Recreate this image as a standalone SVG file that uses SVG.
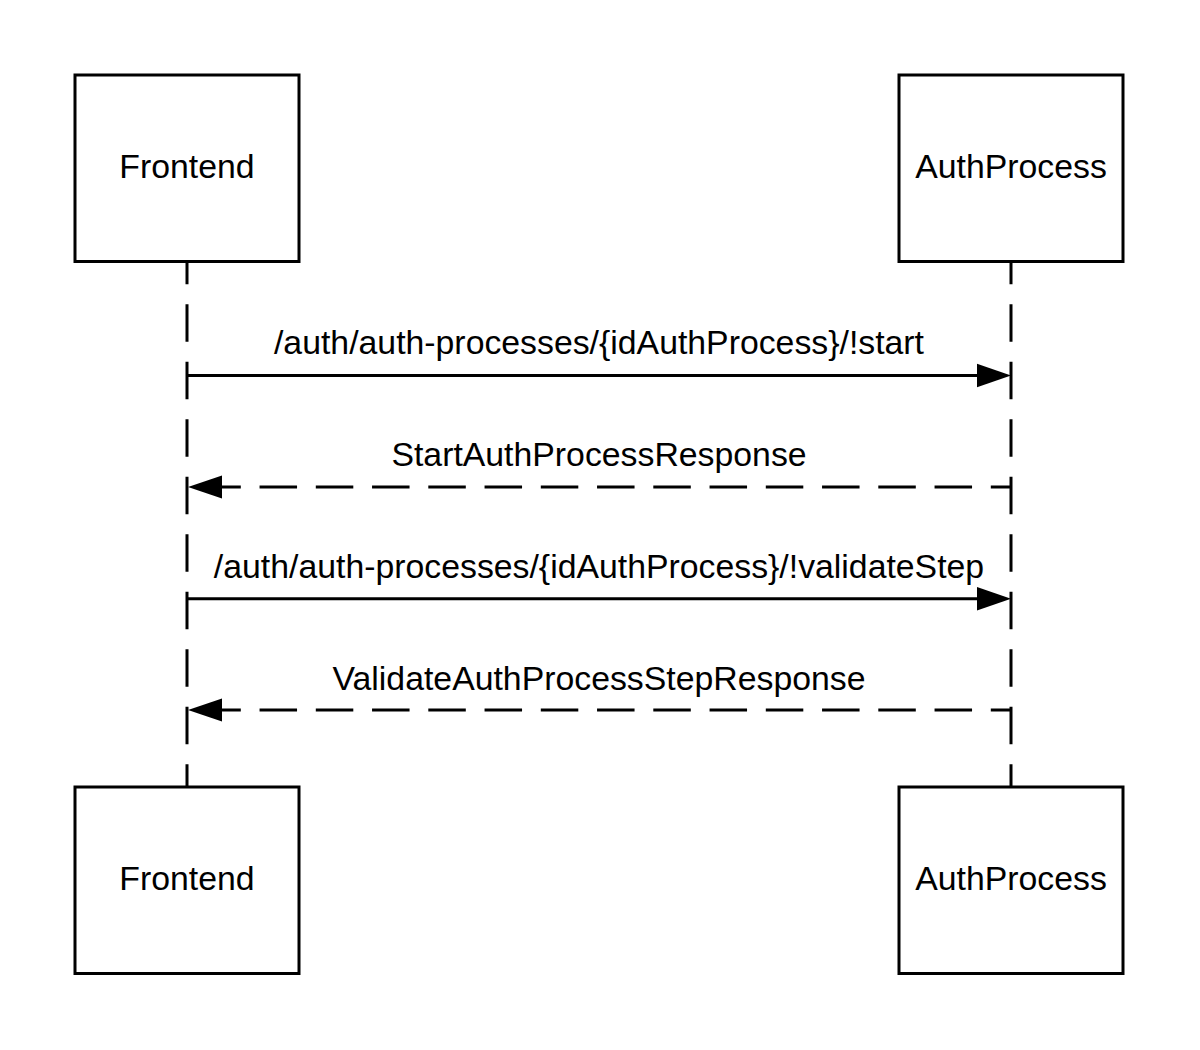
<svg xmlns="http://www.w3.org/2000/svg" width="1200" height="1050" viewBox="0 0 1200 1050">
<style>
.box{fill:#fff;stroke:#000;stroke-width:3}
.lt{font-family:"Liberation Sans",Arial,sans-serif;font-size:33.8px;fill:#000;text-anchor:middle}
.life{stroke:#000;stroke-width:3;fill:none;stroke-dasharray:37.5 20}
.msg{stroke:#000;stroke-width:3;fill:none}
.ret{stroke:#000;stroke-width:3;fill:none;stroke-dasharray:37.5 18.75;stroke-dashoffset:17.3}
.head{fill:#000}
</style>
<rect width="1200" height="1050" fill="#fff"/>
<g id="connectors">
  <path class="life" d="M187 246.8 V787"/>
  <path class="life" d="M1011 246.8 V787"/>
  <path class="msg" d="M187 375.5 H978"/>
  <polygon class="head" points="1011,375.5 977,363.8 977,387.2"/>
  <text class="lt" x="599" y="354">/auth/auth-processes/{idAuthProcess}/!start</text>
  <path class="ret" d="M1011 487 H221"/>
  <polygon class="head" points="188,487 222,475.5 222,498.5"/>
  <text class="lt" x="599" y="466">StartAuthProcessResponse</text>
  <path class="msg" d="M187 598.7 H978"/>
  <polygon class="head" points="1011,598.7 977,587 977,610.4"/>
  <text class="lt" x="599" y="577.7">/auth/auth-processes/{idAuthProcess}/!validateStep</text>
  <path class="ret" d="M1011 710 H221"/>
  <polygon class="head" points="188,710 222,698.5 222,721.5"/>
  <text class="lt" x="599" y="690">ValidateAuthProcessStepResponse</text>
</g>
<g id="frontend-top">
  <rect class="box" x="75" y="75" width="224" height="186.5"/>
  <text class="lt" x="187" y="177.5">Frontend</text>
</g>
<g id="authprocess-top">
  <rect class="box" x="899" y="75" width="224" height="186.5"/>
  <text class="lt" x="1011" y="177.5">AuthProcess</text>
</g>
<g id="frontend-bottom">
  <rect class="box" x="75" y="787" width="224" height="186.5"/>
  <text class="lt" x="187" y="890">Frontend</text>
</g>
<g id="authprocess-bottom">
  <rect class="box" x="899" y="787" width="224" height="186.5"/>
  <text class="lt" x="1011" y="890">AuthProcess</text>
</g>
</svg>
